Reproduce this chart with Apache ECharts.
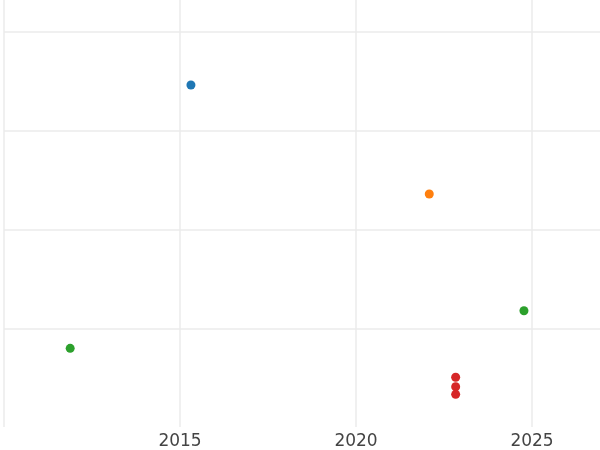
<!DOCTYPE html>
<html>
<head>
<meta charset="utf-8">
<script src="https://cdn.jsdelivr.net/npm/echarts@6/dist/echarts.min.js"></script>
<style>html,body{margin:0;padding:0;background:#fff}#c{width:600px;height:450px}</style>
</head>
<body>
<div id="c"></div>
<script>
const blueX = [2015.31];
const blueY = [3.465];
const orangeX = [2022.08];
const orangeY = [2.361];
const greenX = [2011.88, 2024.77];
const greenY = [0.797, 1.178];
const redX = [2022.83, 2022.83, 2022.83];
const redY = [0.504, 0.408, 0.331];

function pts(xs, ys) { return xs.map((x, i) => [x, ys[i]]); }

const chart = echarts.init(document.getElementById('c'), null, {renderer: 'canvas'});
const mk = (name, xs, ys, color) => ({
  name, type: 'scatter', data: pts(xs, ys), symbolSize: 9,
  itemStyle: {color, opacity: 1}, silent: true
});
chart.setOption({
  animation: false,
  backgroundColor: '#fff',
  grid: {left: 4, right: 0, top: 0, bottom: 23, containLabel: false},
  xAxis: {
    type: 'value', min: 2010, max: 2026.93, interval: 5,
    axisLine: {show: false}, axisTick: {show: false},
    axisLabel: {
      showMinLabel: false, showMaxLabel: false, margin: 6,
      color: '#444', fontSize: 17, fontFamily: 'DejaVu Sans',
      formatter: v => String(v)
    },
    splitLine: {show: true, showMaxLine: false, lineStyle: {color: '#ebebeb', width: 1.5}}
  },
  yAxis: {
    type: 'value', min: 0, max: 4.326, interval: 1,
    axisLine: {show: false}, axisTick: {show: false}, axisLabel: {show: false},
    splitLine: {show: true, showMinLine: false, showMaxLine: false, lineStyle: {color: '#ebebeb', width: 1.5}}
  },
  series: [
    mk('blue', blueX, blueY, '#1f77b4'),
    mk('orange', orangeX, orangeY, '#ff7f0e'),
    mk('green', greenX, greenY, '#2ca02c'),
    mk('red', redX, redY, '#d62728')
  ]
});
</script>
</body>
</html>
